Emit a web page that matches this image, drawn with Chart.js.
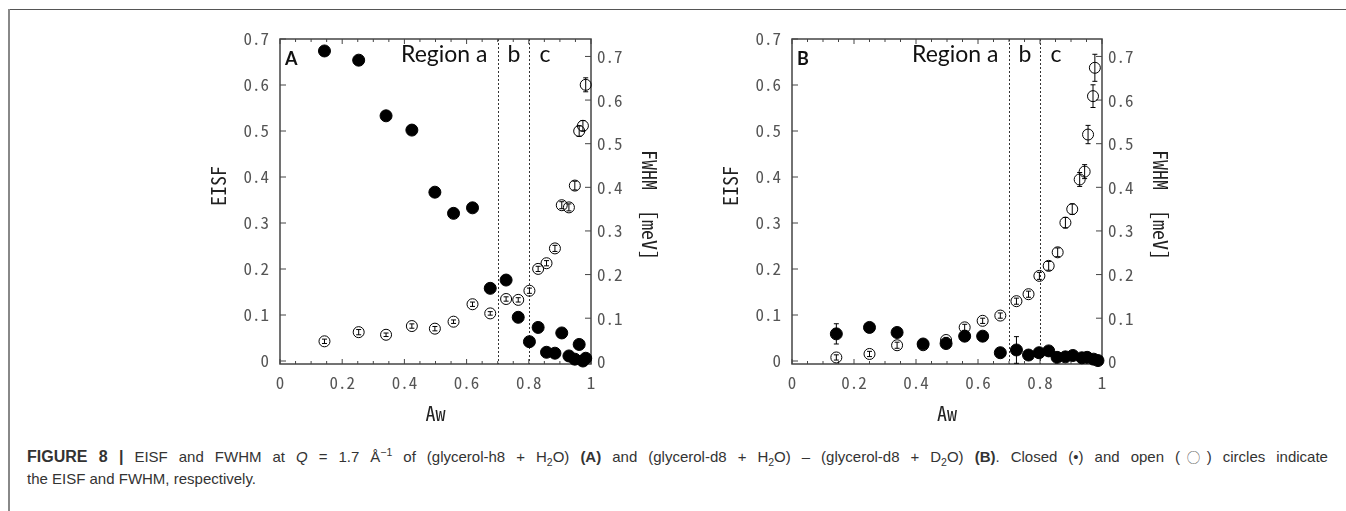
<!DOCTYPE html>
<html><head><meta charset="utf-8">
<script src="https://cdn.jsdelivr.net/npm/chart.js@4.4.1/dist/chart.umd.min.js"></script>
<style>
html,body{margin:0;padding:0;background:#fff;width:1346px;height:511px;overflow:hidden;position:relative;}
#frameTop{position:absolute;left:9px;top:9px;width:1337px;height:0;border-top:1.5px solid #555;}
#frameLeft{position:absolute;left:8px;top:9px;width:0;height:502px;border-left:2px solid #888;}
canvas{position:absolute;top:0;}
.cap{position:absolute;left:27px;font-family:"Liberation Sans",Arial,sans-serif;font-size:15px;color:#333;line-height:22px;white-space:nowrap;}
#cap1{top:446px;width:1301px;text-align:justify;text-align-last:justify;white-space:normal;}
#cap1 .fig{font-size:16px;}
#cap1 .oc{font-family:"Noto Sans CJK JP",sans-serif;font-size:13px;}
#cap2{top:468px;}
.cap sub,.cap sup{font-size:70%;line-height:0;}
</style></head><body>
<div id="frameTop"></div><div id="frameLeft"></div>
<canvas id="cA" width="523" height="440" style="left:150px;width:523px;height:440px"></canvas>
<canvas id="cB" width="522" height="440" style="left:662px;width:522px;height:440px"></canvas>
<div class="cap" id="cap1"><b class="fig">FIGURE 8 |</b> EISF and FWHM at <i>Q</i> = 1.7 Å<sup>−1</sup> of (glycerol-h8 + H<sub>2</sub>O) <b>(A)</b> and (glycerol-d8 + H<sub>2</sub>O) – (glycerol-d8 + D<sub>2</sub>O) <b>(B)</b>. Closed (•) and open (<span class="oc">◯</span>) circles indicate</div>
<div class="cap" id="cap2">the EISF and FWHM, respectively.</div>
<script>
// ---- tick definitions ----
const xTickValues = [0, 0.2, 0.4, 0.6, 0.8, 1];
const xTickLabels = ['0', '0.2', '0.4', '0.6', '0.8', '1'];
const xMinorTicks = [0.05, 0.1, 0.15, 0.25, 0.3, 0.35, 0.45, 0.5, 0.55, 0.65, 0.7, 0.75, 0.85, 0.9, 0.95];
const yTickValues = [0, 0.1, 0.2, 0.3, 0.4, 0.5, 0.6, 0.7];
const yTickLabels = ['0', '0.1', '0.2', '0.3', '0.4', '0.5', '0.6', '0.7'];
const regionBounds = [0.7, 0.8];

// ---- Panel A: glycerol-h8 + H2O ----
const awA      = [0.143, 0.253, 0.341, 0.424, 0.498, 0.558, 0.619, 0.676, 0.727, 0.766, 0.802, 0.830, 0.857, 0.884, 0.906, 0.929, 0.948, 0.962, 0.974, 0.983];
const eisfA    = [0.674, 0.654, 0.533, 0.502, 0.367, 0.321, 0.333, 0.158, 0.176, 0.095, 0.042, 0.073, 0.019, 0.017, 0.061, 0.011, 0.004, 0.036, 0.000, 0.006];
const eisfErrA = [0, 0, 0, 0, 0, 0, 0, 0, 0, 0, 0, 0, 0, 0, 0, 0, 0, 0, 0, 0];
const fwhmA    = [0.047, 0.068, 0.062, 0.082, 0.076, 0.092, 0.132, 0.111, 0.144, 0.142, 0.163, 0.213, 0.226, 0.260, 0.359, 0.354, 0.404, 0.529, 0.541, 0.635];
const fwhmErrA = [0.005, 0.006, 0.004, 0.005, 0.005, 0.004, 0.005, 0.004, 0.005, 0.005, 0.006, 0.006, 0.006, 0.007, 0.008, 0.008, 0.010, 0.012, 0.012, 0.016];

// ---- Panel B: (glycerol-d8 + H2O) - (glycerol-d8 + D2O) ----
const awB_eisf = [0.143, 0.250, 0.339, 0.423, 0.497, 0.557, 0.615, 0.672, 0.724, 0.763, 0.797, 0.828, 0.855, 0.882, 0.906, 0.935, 0.952, 0.973, 0.987];
const eisfB    = [0.059, 0.073, 0.062, 0.037, 0.038, 0.054, 0.054, 0.018, 0.024, 0.013, 0.018, 0.022, 0.008, 0.009, 0.012, 0.007, 0.008, 0.004, 0.001];
const eisfErrB = [0.022, 0.004, 0.004, 0.004, 0.004, 0.004, 0.004, 0.004, 0.029, 0.004, 0.004, 0.004, 0.004, 0.004, 0.004, 0.004, 0.004, 0.004, 0.004];
const awB_fwhm = [0.143, 0.250, 0.339, 0.423, 0.497, 0.557, 0.615, 0.672, 0.724, 0.763, 0.798, 0.828, 0.857, 0.882, 0.904, 0.928, 0.944, 0.955, 0.971, 0.977];
const fwhmB    = [0.010, 0.018, 0.038, 0.038, 0.050, 0.079, 0.094, 0.106, 0.139, 0.155, 0.197, 0.220, 0.251, 0.319, 0.350, 0.418, 0.436, 0.521, 0.609, 0.674];
const fwhmErrB = [0.006, 0.006, 0.007, 0.006, 0.006, 0.007, 0.006, 0.006, 0.007, 0.007, 0.008, 0.010, 0.010, 0.012, 0.012, 0.016, 0.016, 0.021, 0.026, 0.031];

const TICK_FONT = '"Noto Sans Mono CJK JP", "DejaVu Sans Condensed", "DejaVu Sans", sans-serif';

const errorBars = {
  id: 'errorBars',
  afterDatasetsDraw(chart) {
    const ctx = chart.ctx;
    ctx.save();
    ctx.strokeStyle = '#000';
    ctx.lineWidth = 1;
    chart.data.datasets.forEach((ds) => {
      if (!ds.err) return;
      const xs = chart.scales.x, ys = chart.scales[ds.yAxisID];
      ds.data.forEach((p, j) => {
        const e = ds.err[j];
        if (!e) return;
        const px = xs.getPixelForValue(p.x);
        const y1 = ys.getPixelForValue(p.y - e), y2 = ys.getPixelForValue(p.y + e);
        const cw = 2.5;
        ctx.beginPath();
        ctx.moveTo(px, y1); ctx.lineTo(px, y2);
        ctx.moveTo(px - cw, y1); ctx.lineTo(px + cw, y1);
        ctx.moveTo(px - cw, y2); ctx.lineTo(px + cw, y2);
        ctx.stroke();
      });
    });
    ctx.restore();
  }
};

const panelDecor = {
  id: 'panelDecor',
  beforeDatasetsDraw(chart, args, opts) {
    const {ctx, chartArea: a, scales} = chart;
    const x = scales.x, yL = scales.yL, yR = scales.yR;
    const line = (x1, y1, x2, y2) => { ctx.beginPath(); ctx.moveTo(x1, y1); ctx.lineTo(x2, y2); ctx.stroke(); };
    ctx.save();
    // region dotted lines
    ctx.strokeStyle = '#333'; ctx.lineWidth = 1; ctx.setLineDash([2, 2]);
    const lp = regionBounds.map(v => Math.round(x.getPixelForValue(v)) + 0.5);
    lp.forEach(px => line(px, a.top, px, a.bottom));
    ctx.setLineDash([]);
    // frame
    ctx.strokeStyle = '#444'; ctx.lineWidth = 1.5;
    ctx.strokeRect(a.left, a.top, a.right - a.left, a.bottom - a.top);
    ctx.lineWidth = 1;
    xTickValues.forEach(v => { const p = x.getPixelForValue(v); line(p, a.bottom, p, a.bottom - 5); line(p, a.top, p, a.top + 5); });
    xMinorTicks.forEach(v => { const p = x.getPixelForValue(v); line(p, a.bottom, p, a.bottom - 3); line(p, a.top, p, a.top + 3); });
    yTickValues.forEach(v => { const p = yL.getPixelForValue(v); line(a.left, p, a.left + 6, p); });
    yTickValues.forEach(v => { const p = yR.getPixelForValue(v); line(a.right - 6, p, a.right, p); });
    // panel letter
    ctx.fillStyle = '#111';
    ctx.font = 'bold 18px Lato, "Open Sans", sans-serif';
    ctx.textAlign = 'left'; ctx.textBaseline = 'alphabetic';
    ctx.fillText(opts.letter, a.left + 5, a.top + 26);
    // region labels
    ctx.font = '23px Lato, "Open Sans", sans-serif';
    ctx.textAlign = 'right'; ctx.fillText('Region a', lp[0] - 11, a.top + 23);
    ctx.textAlign = 'center'; ctx.fillText('b', (lp[0] + lp[1]) / 2, a.top + 23);
    ctx.textAlign = 'left'; ctx.fillText('c', lp[1] + 10, a.top + 23);
    // axis titles
    ctx.fillStyle = '#222';
    ctx.font = '20px ' + TICK_FONT;
    ctx.textAlign = 'center'; ctx.textBaseline = 'middle';
    ctx.fillText('Aw', (a.left + a.right) / 2, a.bottom + 49);
    ctx.save(); ctx.translate(a.left - 62, a.top + 147); ctx.rotate(-Math.PI / 2); ctx.fillText('EISF', 0, 0); ctx.restore();
    ctx.save(); ctx.translate(a.right + 59, a.top + 166); ctx.rotate(Math.PI / 2); ctx.fillText('FWHM  [meV]', 0, 0); ctx.restore();
    ctx.restore();
  }
};

function makePanel(id, letter, cx, cy, cerr, ox, oy, oerr, leftW) {
  const ctx = document.getElementById(id);
  const tickFont = {family: TICK_FONT, size: 17};
  return new Chart(ctx, {
    type: 'scatter',
    data: {
      datasets: [
        { label: 'EISF', yAxisID: 'yL', data: cx.map((v, i) => ({x: v, y: cy[i]})), err: cerr,
          pointRadius: 6, pointBackgroundColor: '#000', pointBorderColor: '#000', pointBorderWidth: 1, clip: false, order: 0 },
        { label: 'FWHM', yAxisID: 'yR', data: ox.map((v, i) => ({x: v, y: oy[i]})), err: oerr,
          pointRadius: 5.5, pointBackgroundColor: 'rgba(0,0,0,0)', pointBorderColor: '#000', pointBorderWidth: 1, clip: false, order: 1 }
      ]
    },
    options: {
      responsive: false, animation: false, devicePixelRatio: 1,
      layout: {padding: {top: 39, left: 0, right: 0, bottom: 0}},
      plugins: {legend: {display: false}, tooltip: {enabled: false}, panelDecor: {letter: letter}},
      scales: {
        x: { type: 'linear', position: 'bottom', min: 0, max: 1,
             afterBuildTicks: s => { s.ticks = xTickValues.map(v => ({value: v})); },
             afterFit: s => { s.height = 76; },
             grid: {display: false, drawTicks: false}, border: {display: false},
             ticks: {autoSkip: false, maxRotation: 0, padding: 8, color: '#555', font: tickFont, callback: (v, i) => xTickLabels[i]} },
        yL: { type: 'linear', position: 'left', min: -0.0065, max: 0.7,
             afterBuildTicks: s => { s.ticks = yTickValues.map(v => ({value: v})); },
             afterFit: s => { s.width = leftW; },
             grid: {display: false, drawTicks: false}, border: {display: false},
             ticks: {autoSkip: false, padding: 11, color: '#555', font: tickFont, callback: (v, i) => yTickLabels[i]} },
        yR: { type: 'linear', position: 'right', min: -0.005, max: 0.74,
             afterBuildTicks: s => { s.ticks = yTickValues.map(v => ({value: v})); },
             afterFit: s => { s.width = 82; },
             grid: {display: false, drawTicks: false}, border: {display: false},
             ticks: {autoSkip: false, padding: 6, color: '#555', font: tickFont, callback: (v, i) => yTickLabels[i]} }
      }
    },
    plugins: [panelDecor, errorBars]
  });
}

makePanel('cA', 'A', awA, eisfA, eisfErrA, awA, fwhmA, fwhmErrA, 130);
makePanel('cB', 'B', awB_eisf, eisfB, eisfErrB, awB_fwhm, fwhmB, fwhmErrB, 130);
</script>
</body></html>
